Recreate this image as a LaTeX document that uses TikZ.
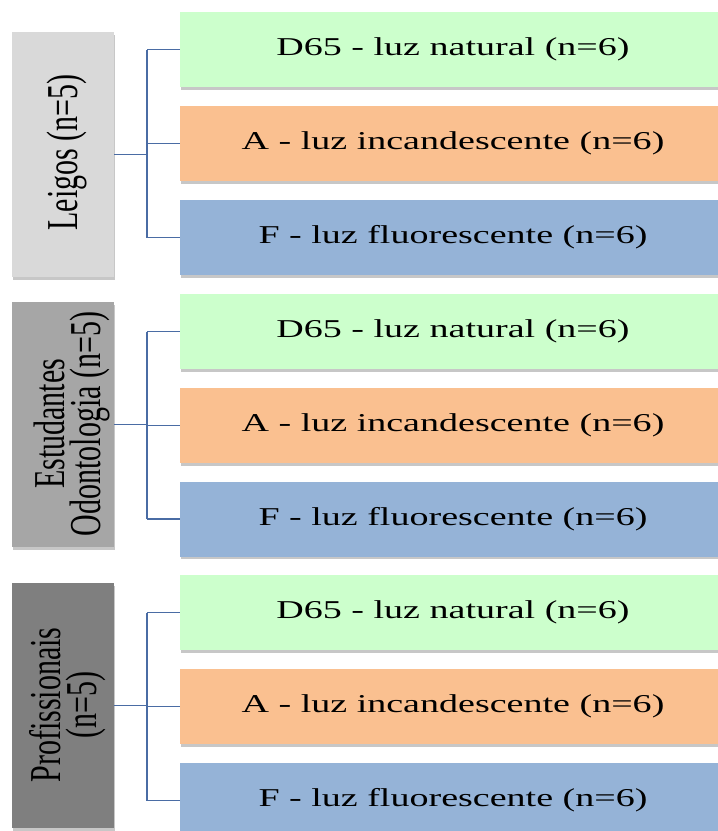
\documentclass[tikz,border=0pt]{standalone}
\usepackage{fontspec}
\setmainfont{Liberation Serif}
\usetikzlibrary{shadows}
\definecolor{grpA}{HTML}{D9D9D9}
\definecolor{grpB}{HTML}{A6A6A6}
\definecolor{grpC}{HTML}{7F7F7F}
\definecolor{lgreen}{HTML}{CCFFCC}
\definecolor{lorange}{HTML}{FAC090}
\definecolor{lblue}{HTML}{95B3D7}
\definecolor{linkblue}{RGB}{74,108,164}
\newcommand\htext[1]{\raisebox{-1.5pt}{\scalebox{1.48}[1]{\fontsize{25.7}{30}\selectfont #1}}}
\newcommand\vtext[1]{\scalebox{1}[1.47]{\fontsize{30}{24}\selectfont\shortstack{#1}}}
\tikzset{
  boxshadow/.style={drop shadow={shadow xshift=0.6pt, shadow yshift=-2.5pt, fill=black, opacity=0.22}},
  grpbox/.style={minimum width=102pt, minimum height=245pt, inner sep=0pt, boxshadow},
  grplabel/.style={rotate=90, inner sep=0pt, text=black},
  condbox/.style={minimum width=546pt, minimum height=75pt, inner sep=0pt, boxshadow, text=black},
  link/.style={draw=linkblue, line width=1.6pt},
}
\begin{document}
\begin{tikzpicture}[x=1pt,y=1pt]
\useasboundingbox[fill=white] (0,0) rectangle (718,-831);

% group boxes
\node[grpbox, fill=grpA] (P1) at (63,-154.5) {};
\node[grpbox, fill=grpB] (P2) at (63,-424.5) {};
\node[grpbox, fill=grpC] (P3) at (63,-705.5) {};
\node[grplabel] (L1) at (67,-152.5) {\vtext{Leigos (n=5)}};
\node[grplabel] (L2) at (72,-424) {\vtext{Estudantes\\Odontologia (n=5)}};
\node[grplabel] (L3) at (67.5,-705) {\vtext{Profissionais\\(n=5)}};

% condition boxes
\node[condbox, fill=lgreen]  (C11) at (453,-49.5)  {\htext{D65 - luz natural (n=6)}};
\node[condbox, fill=lorange] (C12) at (453,-143.5) {\htext{A - luz incandescente (n=6)}};
\node[condbox, fill=lblue]   (C13) at (453,-237.5) {\htext{F - luz fluorescente (n=6)}};

\node[condbox, fill=lgreen]  (C21) at (453,-331.5) {\htext{D65 - luz natural (n=6)}};
\node[condbox, fill=lorange] (C22) at (453,-425.5) {\htext{A - luz incandescente (n=6)}};
\node[condbox, fill=lblue]   (C23) at (453,-519)   {\htext{F - luz fluorescente (n=6)}};

\node[condbox, fill=lgreen]  (C31) at (453,-612.5) {\htext{D65 - luz natural (n=6)}};
\node[condbox, fill=lorange] (C32) at (453,-706.5) {\htext{A - luz incandescente (n=6)}};
\node[condbox, fill=lblue]   (C33) at (453,-800.5) {\htext{F - luz fluorescente (n=6)}};

% connectors
\foreach \g in {1,2,3}{
  \draw[link] (P\g.east) -- ++(33,0) coordinate (J\g);
  \draw[link] (J\g |- C\g1.west) -- (J\g |- C\g3.west);
  \foreach \c in {1,2,3}{
    \draw[link] (J\g |- C\g\c.west) -- (C\g\c.west);
  }
}
\end{tikzpicture}
\end{document}
